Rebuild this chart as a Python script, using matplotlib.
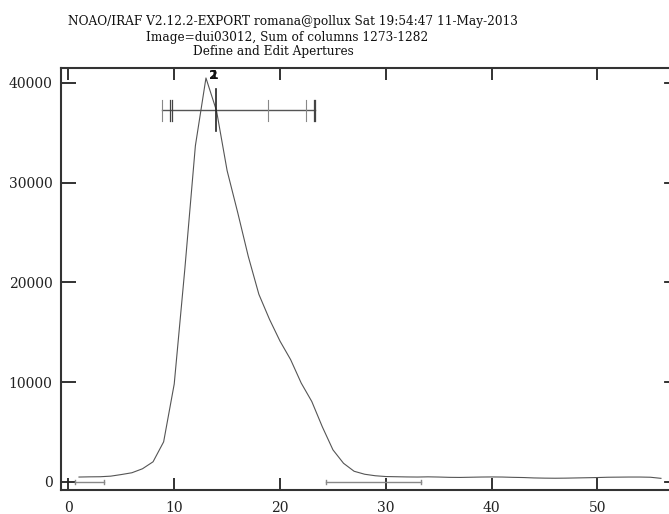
import matplotlib
matplotlib.use("Agg")
import matplotlib.pyplot as plt
import numpy as np

# profile: sum of columns 1273-1282, one value per line (pixel)
pixel = list(range(1, 57))
counts = [470, 490, 500, 560, 720, 900, 1300, 2000, 4000, 9800,
          21300, 33700, 40500, 37200, 31200, 27000, 22600, 18800, 16300, 14100,
          12250, 9900, 8050, 5500, 3200, 1850, 1050, 750, 600, 520,
          500, 480, 470, 490, 470, 440, 430, 450, 470, 480,
          470, 440, 420, 380, 360, 350, 360, 380, 400, 420,
          450, 460, 470, 470, 450, 340]

# apertures 1 and 2 (nearly on top of each other)
ap_labels = ["1", "2"]
ap_center = 13.94
ap_bar_y = 37250
ap_left, ap_right = 8.89, 23.33
ap_limits_dark = [9.56, 9.78, 23.17, 23.33]
ap_limits_light = [8.89, 18.91, 22.45]
bg_regions = [(0.64, 3.38), (24.37, 33.35)]

xticks = list(range(0, 51, 10))
yticks = list(range(0, 40001, 10000))

title_lines = [
    "NOAO/IRAF V2.12.2-EXPORT romana@pollux Sat 19:54:47 11-May-2013",
    "Image=dui03012, Sum of columns 1273-1282",
    "Define and Edit Apertures",
]

W, H = 669, 514
fig = plt.figure(figsize=(W / 100, H / 100), dpi=100)
# right edge of the frame sits just outside the picture
ax = fig.add_axes([61 / W, (H - 490) / H, (680 - 61) / W, (490 - 68) / H])

ax.plot(pixel, counts, color="#555555", lw=0.8)

# aperture marks
ax.plot([ap_left, ap_right], [ap_bar_y, ap_bar_y], color="#555555", lw=1.0)
ax.plot([ap_center, ap_center], [35200, 39400], color="#222222", lw=1.2)
for xl in ap_limits_dark:
    ax.plot([xl, xl], [36200, 38300], color="#444444", lw=0.9)
for xl in ap_limits_light:
    ax.plot([xl, xl], [36200, 38300], color="#888888", lw=0.8)
for lab in ap_labels:
    ax.text(13.72, 40780, lab, ha="center", va="center", fontsize=9,
            fontweight="bold", family="DejaVu Sans", color="#111111")

# background sample regions
for x0, x1 in bg_regions:
    ax.plot([x0, x1], [0, 0], color="#888888", lw=1.0)
    for xe in (x0, x1):
        ax.plot([xe, xe], [-200, 200], color="#888888", lw=1.0)

ax.set_xlim(-0.7, 57.8)
ax.set_ylim(-830, 41500)
ax.set_xticks(xticks)
ax.set_yticks(yticks)
ax.tick_params(axis="x", direction="in", length=8.6, width=1.3, top=True,
               pad=8, labelsize=10, colors="#222222")
ax.tick_params(axis="y", direction="in", length=10.5, width=1.3, right=False,
               pad=6, labelsize=10, colors="#222222")
# right-hand ticks: the frame edge is off-canvas, so draw them as segments
for yv in yticks:
    ax.plot([0.976, 1.0], [yv, yv], transform=ax.get_yaxis_transform(),
            color="#222222", lw=1.3, clip_on=False)
for lab in ax.get_xticklabels() + ax.get_yticklabels():
    lab.set_family("DejaVu Serif")
for sp in ax.spines.values():
    sp.set_linewidth(1.5)
    sp.set_color("#333333")

# three-line IRAF header
centers = [(293, 21), (287, 37), (273, 52)]
for txt, (cx, cy) in zip(title_lines, centers):
    fig.text(cx / W, 1 - cy / H, txt, ha="center", va="center",
             fontsize=8.7, family="DejaVu Serif", color="#111111")

fig.savefig("out.png", dpi=100)
